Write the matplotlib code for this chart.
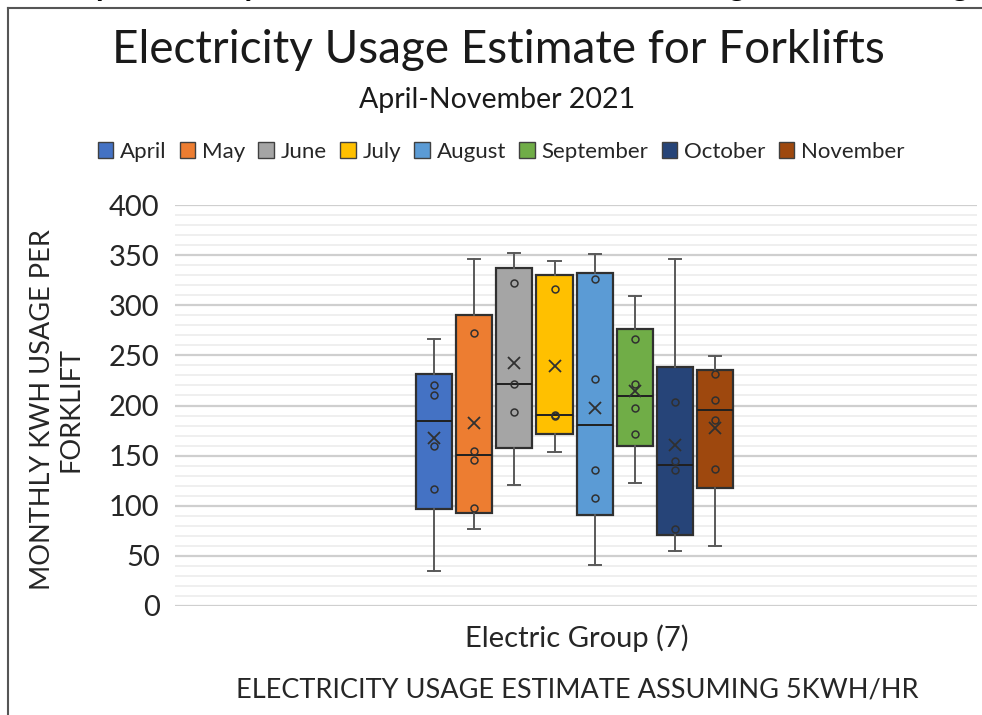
import numpy as np
import matplotlib.pyplot as plt

# Data (kWh per forklift)
months = ["April", "May", "June", "July", "August", "September", "October", "November"]
april = [35, 117, 160, 210, 220, 266]
may = [77, 97.5, 145.6, 155, 272, 346]
june = [121, 194, 221, 322, 352]
july = [154, 190, 191, 316, 344]
august = [41, 107.4, 135.7, 226, 326, 351]
september = [123, 172, 198, 221, 266, 309]
october = [55, 76.5, 135.7, 144.6, 203, 346]
november = [60, 136.4, 185.5, 205.5, 231, 249.7]
series = [april, may, june, july, august, september, october, november]

colors = ["#4472C4", "#ED7D31", "#A5A5A5", "#FFC000",
          "#5B9BD5", "#70AD47", "#264478", "#9E480E"]

plt.rcParams['font.family'] = ['Lato', 'DejaVu Sans']

# Excel style stats (exclusive quartiles)
def excel_stats(vals):
    v = np.sort(np.array(vals, dtype=float))
    q1, med, q3 = np.percentile(v, [25, 50, 75], method="weibull")
    iqr = q3 - q1
    lo = v[v >= q1 - 1.5 * iqr].min()
    hi = v[v <= q3 + 1.5 * iqr].max()
    return dict(med=med, q1=q1, q3=q3, whislo=lo, whishi=hi,
                mean=v.mean(), fliers=[])

stats = [excel_stats(s) for s in series]
pos = np.arange(len(months))

fig = plt.figure(figsize=(9.82, 7.15), dpi=100)
ax = fig.add_axes([175 / 982, 1 - 606 / 715, 802 / 982, 401 / 715])

bp = ax.bxp(stats, positions=pos, widths=0.9, patch_artist=True,
            showmeans=False, showfliers=False,
            boxprops=dict(linewidth=1.6, edgecolor="#303030"),
            medianprops=dict(color="#202020", linewidth=1.4),
            whiskerprops=dict(color="#595959", linewidth=1.4),
            capprops=dict(color="#595959", linewidth=1.4),
            capwidths=0.3, zorder=3)
for patch, c in zip(bp["boxes"], colors):
    patch.set_facecolor(c)

# mean markers and inner points
for x, s, st in zip(pos, series, stats):
    ax.plot(x, st["mean"], marker="x", color="#303030", markersize=9,
            markeredgewidth=1.3, zorder=5)
    inner = [v for v in s if st["whislo"] < v < st["whishi"]]
    ax.plot([x] * len(inner), inner, linestyle="none", marker="o",
            markersize=5, markerfacecolor="none", markeredgecolor="#303030",
            markeredgewidth=1.1, zorder=5)

ax.set_xlim(-6.45, 13.52)
ax.set_ylim(0, 400)
ax.set_yticks(range(0, 401, 50))
ax.set_yticks(range(0, 401, 10), minor=True)
ax.tick_params(axis="y", which="both", length=0, pad=11, labelsize=21,
               labelcolor="#262626")
ax.set_xticks([])
ax.grid(axis="y", which="major", color="#cfcfcf", linewidth=1.6, zorder=0)
ax.grid(axis="y", which="minor", color="#ececec", linewidth=1.2, zorder=0)
ax.set_axisbelow(True)
for sp in ax.spines.values():
    sp.set_visible(False)

# Texts
fig.text(498 / 982, 1 - 50 / 715, "Electricity Usage Estimate for Forklifts",
         ha="center", va="center", fontsize=33, color="#1a1a1a")
fig.text(497 / 982, 1 - 100 / 715, "April-November 2021",
         ha="center", va="center", fontsize=20.5, color="#1a1a1a")
fig.text(57 / 982, 1 - 410 / 715, "MONTHLY KWH USAGE PER\nFORKLIFT",
         ha="center", va="center", rotation=90, fontsize=19.5,
         color="#262626", linespacing=1.15)
fig.text(577 / 982, 1 - 638 / 715, "Electric Group (7)",
         ha="center", va="center", fontsize=21, color="#262626")
fig.text(577 / 982, 1 - 690 / 715, "ELECTRICITY USAGE ESTIMATE ASSUMING 5KWH/HR",
         ha="center", va="center", fontsize=19.5, color="#262626")

# Legend
handles = [plt.Rectangle((0, 0), 1, 1, facecolor=c, edgecolor="#404040", linewidth=1)
           for c in colors]
fig.legend(handles, months, loc="center", bbox_to_anchor=(501 / 982, 1 - 152 / 715),
           ncol=8, frameon=False, fontsize=16, handlelength=0.7, handleheight=0.7,
           handletextpad=0.3, columnspacing=0.6, labelcolor="#262626")

# chart border and clipped heading above it
fig.add_artist(plt.Line2D([8 / 982, 8 / 982], [0, 1 - 8 / 715], color="#555555", linewidth=1.5))
fig.add_artist(plt.Line2D([8 / 982, 1], [1 - 8 / 715, 1 - 8 / 715], color="#555555", linewidth=1.5))
fig.text(490 / 982, 1 + 4 / 715, "Monthly Electricity Use for Electric Forklifts Assuming 5 kWh/hr Usage",
         ha="center", va="baseline", fontsize=24, fontweight="bold", style="italic", color="black")

fig.savefig("out.png", dpi=100)
